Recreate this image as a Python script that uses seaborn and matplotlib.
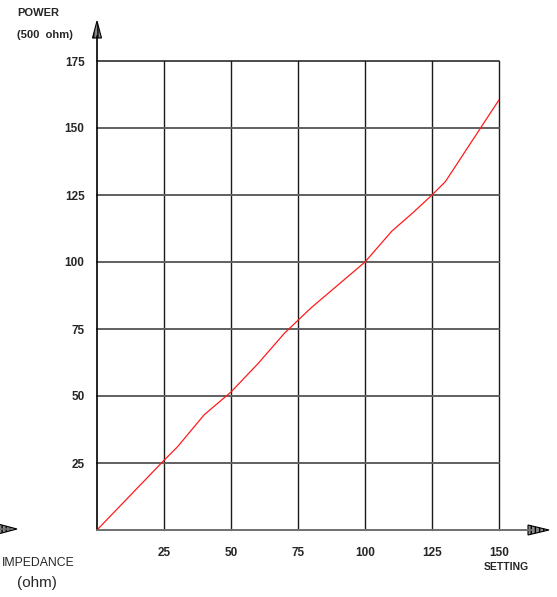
import matplotlib
matplotlib.use("Agg")
import matplotlib.pyplot as plt
from matplotlib.patches import Polygon
import seaborn as sns
import pandas as pd

# Output power (500 ohm load) against control setting
setting = [0, 25, 30, 40, 50, 60, 70, 80, 90, 100, 110, 118, 125, 130, 150]
power = [0, 26, 31, 43, 51.5, 62, 73.5, 83, 91.5, 100, 111.5, 118.5, 125, 130, 160.5]
x_ticks = [25, 50, 75, 100, 125, 150]
y_ticks = [25, 50, 75, 100, 125, 150, 175]

W, H = 557, 597
sns.set_style("white")
plt.rcParams["font.family"] = ["Liberation Sans", "DejaVu Sans"]

fig = plt.figure(figsize=(W / 100, H / 100), dpi=100)
ax = fig.add_axes([97 / W, (H - 530) / H, 402 / W, 469 / H])

df = pd.DataFrame({"setting": setting, "power": power})
sns.lineplot(data=df, x="setting", y="power", ax=ax, color="#ff1a1a", lw=0.9,
             zorder=5, estimator=None, sort=False)

ax.set_xlim(0, 150)
ax.set_ylim(0, 175)
ax.set_xticks(x_ticks)
ax.set_yticks(y_ticks)
ax.set_xlabel("")
ax.set_ylabel("")
for s in ax.spines.values():
    s.set_visible(False)

ax.xaxis.grid(True, color="#1a1a1a", lw=1.0)
ax.yaxis.grid(True, color="#606060", lw=1.4)
for gl in ax.get_xgridlines() + ax.get_ygridlines():
    gl.set_clip_on(False)
ax.get_ygridlines()[-1].set_color("#1a1a1a")
ax.get_ygridlines()[-1].set_linewidth(1.1)
ax.tick_params(axis="both", length=0)
ax.tick_params(axis="y", pad=9, labelsize=8.5)
ax.tick_params(axis="x", pad=12, labelsize=8.5)
for lab in ax.get_xticklabels() + ax.get_yticklabels():
    lab.set_fontweight("bold")


def fx(px):
    return px / W


def fy(py):
    return 1 - py / H


# axis lines extended into arrows
fig.add_artist(plt.Line2D([fx(97), fx(97)], [fy(530), fy(36)], color="black", lw=1.2))
fig.add_artist(plt.Line2D([fx(97), fx(532)], [fy(530), fy(530)], color="#707070", lw=1.4))
fig.add_artist(plt.Line2D([fx(0), fx(12)], [fy(529), fy(529)], color="#707070", lw=1.2))


def arrow_head(pts):
    poly = Polygon([(fx(a), fy(b)) for a, b in pts], closed=True,
                   transform=fig.transFigure, facecolor="#8a8a8a",
                   edgecolor="black", lw=0.8, hatch="||||")
    fig.add_artist(poly)


arrow_head([(92.5, 38), (97, 21), (101.5, 38)])
arrow_head([(528, 525), (549, 530), (528, 535)])
arrow_head([(-2, 524), (17, 529), (-2, 534)])

fig.text(fx(17), fy(13), "POWER", fontsize=8, fontweight="bold", va="center", ha="left")
fig.text(fx(17), fy(35), "(500  ohm)", fontsize=8, fontweight="bold", va="center", ha="left")
fig.text(fx(506), fy(567), "SETTING", fontsize=7.5, fontweight="bold", va="center", ha="center")
fig.text(fx(2), fy(563), "IMPEDANCE", fontsize=8.8, va="center", ha="left")
fig.text(fx(37), fy(583), "(ohm)", fontsize=11, va="center", ha="center")

fig.savefig("out.png", dpi=100)
